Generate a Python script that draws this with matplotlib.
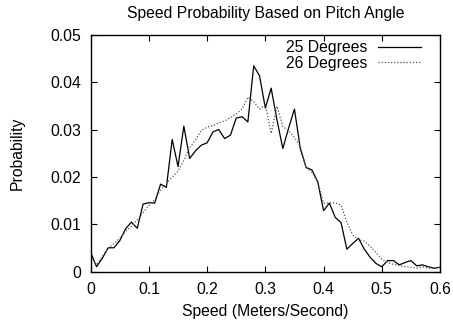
import numpy as np
import matplotlib
matplotlib.use("Agg")
import matplotlib.pyplot as plt

plt.rcParams["font.family"] = ["Liberation Sans", "DejaVu Sans"]

# -------------------------
# Data
# -------------------------
speed = np.round(np.arange(0, 0.601, 0.01), 2)

prob_25 = [
    0.0041, 0.0011, 0.0029, 0.0051, 0.0051, 0.0066, 0.0091, 0.0105, 0.0092, 0.0143,
    0.0146, 0.0145, 0.0185, 0.0178, 0.0279, 0.0222, 0.0307, 0.0239, 0.0255, 0.0267,
    0.0272, 0.0295, 0.0300, 0.0281, 0.0288, 0.0324, 0.0327, 0.0316, 0.0434, 0.0413,
    0.0345, 0.0387, 0.0320, 0.0260, 0.0303, 0.0343, 0.0260, 0.0220, 0.0215, 0.0190,
    0.0129, 0.0145, 0.0115, 0.0104, 0.0048, 0.0060, 0.0071, 0.0048, 0.0031, 0.0018,
    0.0011, 0.0024, 0.0024, 0.0015, 0.0020, 0.0024, 0.0013, 0.0015, 0.0011, 0.0008,
    0.0010,
]

prob_26 = [
    0.0035, 0.0015, 0.0033, 0.0050, 0.0060, 0.0071, 0.0086, 0.0096, 0.0110, 0.0125,
    0.0140, 0.0152, 0.0173, 0.0186, 0.0200, 0.0212, 0.0235, 0.0262, 0.0278, 0.0298,
    0.0305, 0.0308, 0.0314, 0.0318, 0.0325, 0.0333, 0.0343, 0.0368, 0.0359, 0.0343,
    0.0352, 0.0292, 0.0349, 0.0306, 0.0298, 0.0283, 0.0265, 0.0220, 0.0210, 0.0190,
    0.0145, 0.0145, 0.0146, 0.0141, 0.0105, 0.0078, 0.0068, 0.0065, 0.0054, 0.0041,
    0.0027, 0.0020, 0.0016, 0.0014, 0.0011, 0.0010, 0.0008, 0.0011, 0.0008, 0.0008,
    0.0010,
]

x_ticks = [0, 0.1, 0.2, 0.3, 0.4, 0.5, 0.6]
x_tick_labels = ["0", "0.1", "0.2", "0.3", "0.4", "0.5", "0.6"]
y_ticks = [0, 0.01, 0.02, 0.03, 0.04, 0.05]
y_tick_labels = ["0", "0.01", "0.02", "0.03", "0.04", "0.05"]

# -------------------------
# Plot
# -------------------------
fs = 11.3
fig = plt.figure(figsize=(4.53, 3.24), dpi=100)
ax = fig.add_axes([0.2002, 0.1605, 0.7711, 0.733])

ax.plot(speed, prob_25, color="black", linewidth=0.9, label="25 Degrees")
ax.plot(speed, prob_26, color="#555555", linewidth=0.9,
        linestyle=(0, (1, 1.5)), label="26 Degrees")

ax.set_xlim(0, 0.6)
ax.set_ylim(0, 0.05)
ax.set_xticks(x_ticks)
ax.set_xticklabels(x_tick_labels)
ax.set_yticks(y_ticks)
ax.set_yticklabels(y_tick_labels)
ax.tick_params(direction="in", top=True, right=True, length=4, width=0.8,
               labelsize=fs)
ax.tick_params(axis="x", pad=7)
ax.tick_params(axis="y", pad=7)
for s in ax.spines.values():
    s.set_linewidth(1.0)

ax.set_title("Speed Probability Based on Pitch Angle", fontsize=fs, pad=12)
ax.set_xlabel("Speed (Meters/Second)", fontsize=fs, labelpad=5)
ax.set_ylabel("Probability", fontsize=fs, labelpad=18)

ax.legend(loc="upper right", bbox_to_anchor=(0.946, 0.976),
          frameon=False, markerfirst=False, fontsize=fs,
          handlelength=2.75, handletextpad=0.65, labelspacing=0.05,
          borderaxespad=0, borderpad=0)

fig.savefig("out.png", dpi=100)
